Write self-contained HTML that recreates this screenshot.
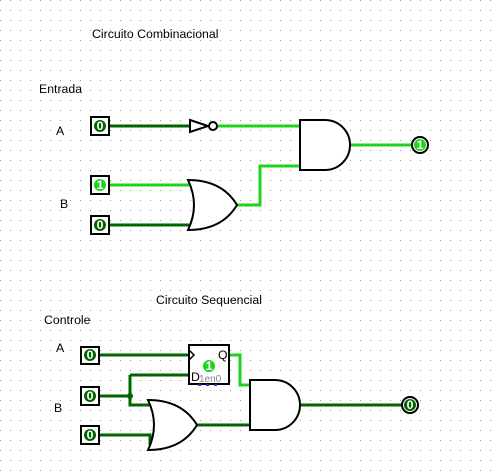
<!DOCTYPE html><html><head><style>body{margin:0;background:#fff}svg{display:block}text{font-family:"Liberation Sans",sans-serif;font-size:12.3px;fill:#000}</style></head><body>
<svg width="495" height="476" viewBox="0 0 495 476" xmlns="http://www.w3.org/2000/svg">
<defs><pattern id="g" width="10" height="10" patternUnits="userSpaceOnUse"><rect x="0" y="0" width="1" height="1" fill="#999"/></pattern></defs>
<rect width="495" height="476" fill="url(#g)"/>
<g fill="none" stroke-width="3">
<path d="M109 126H190" stroke="#006400"/>
<path d="M218 126H300" stroke="#1ed21e"/>
<path d="M109 185H192" stroke="#1ed21e"/>
<path d="M109 225H192" stroke="#006400"/>
<path d="M237 205H260V166H300" stroke="#1ed21e"/>
<path d="M350 145H412" stroke="#1ed21e"/>
<path d="M99 355H190" stroke="#006400"/>
<path d="M99 396H130M130 375V405H152M130 375H190" stroke="#006400"/>
<path d="M99 435H150V445" stroke="#006400"/>
<path d="M229 355H240V385H250" stroke="#1ed21e"/>
<path d="M197 425H250" stroke="#006400"/>
<path d="M300 405H402" stroke="#006400"/>
</g>
<circle cx="130" cy="396" r="3" fill="#006400"/>
<g fill="#fff" stroke="#000" stroke-width="2">
<path d="M190 120L208 126L190 132Z"/>
<circle cx="213" cy="126" r="4"/>
<path d="M300 120H325A25 25 0 0 1 325 170H300Z"/>
<path d="M188 180Q222 180 237 205Q222 230 188 230Q200 205 188 180Z"/>
<path d="M250 380H275A25 25 0 0 1 275 430H250Z"/>
<path d="M148 400Q182 400 197 425Q182 450 148 450Q160 425 148 400Z"/>
<rect x="189" y="345" width="40" height="39"/>
</g>
<path d="M189 350L194 355L189 360" fill="none" stroke="#000" stroke-width="1.5"/>
<path d="M198 385H222" stroke="#33c" stroke-width="2" stroke-dasharray="3,5"/>
<g stroke="#000" stroke-width="2">
<rect x="91" y="117" width="18" height="18" fill="#fff"/>
<rect x="91" y="176" width="18" height="18" fill="#fff"/>
<rect x="91" y="216" width="18" height="18" fill="#fff"/>
<rect x="81" y="347" width="18" height="17" fill="#fff"/>
<rect x="81" y="387" width="18" height="18" fill="#fff"/>
<rect x="81" y="426" width="18" height="18" fill="#fff"/>
<circle cx="420" cy="145" r="8" fill="#fff"/>
<circle cx="410" cy="405" r="8" fill="#fff"/>
</g>
<g>
<circle cx="100" cy="126" r="6" fill="#006400"/><circle cx="100" cy="185" r="6" fill="#1ed21e"/><circle cx="100" cy="225" r="6" fill="#006400"/>
<circle cx="90" cy="355" r="6" fill="#006400"/><circle cx="90" cy="396" r="6" fill="#006400"/><circle cx="90" cy="435" r="6" fill="#006400"/>
<circle cx="420" cy="145" r="6" fill="#1ed21e"/><circle cx="410" cy="405" r="6" fill="#006400"/>
<circle cx="209" cy="366" r="6" fill="#1ed21e"/>
</g>
<g style="font-size:11px;font-weight:bold" fill="#fff" text-anchor="middle">
<text x="100" y="130" fill="#fff" style="fill:#fff">0</text><text x="100" y="189" style="fill:#fff">1</text><text x="100" y="229" style="fill:#fff">0</text>
<text x="90" y="359" style="fill:#fff">0</text><text x="90" y="400" style="fill:#fff">0</text><text x="90" y="439" style="fill:#fff">0</text>
<text x="420" y="149" style="fill:#fff">1</text><text x="410" y="409" style="fill:#fff">0</text><text x="209" y="370" style="fill:#fff">1</text>
</g>
<text x="218" y="359">Q</text>
<text x="191" y="381">D</text>
<text x="199" y="382" style="fill:#888;font-size:10px">1en0</text>
<text x="92" y="38">Circuito Combinacional</text>
<text x="39" y="93">Entrada</text>
<text x="56" y="135">A</text>
<text x="60" y="208">B</text>
<text x="156" y="304">Circuito Sequencial</text>
<text x="44" y="324">Controle</text>
<text x="56" y="352">A</text>
<text x="54" y="412">B</text>
</svg></body></html>
